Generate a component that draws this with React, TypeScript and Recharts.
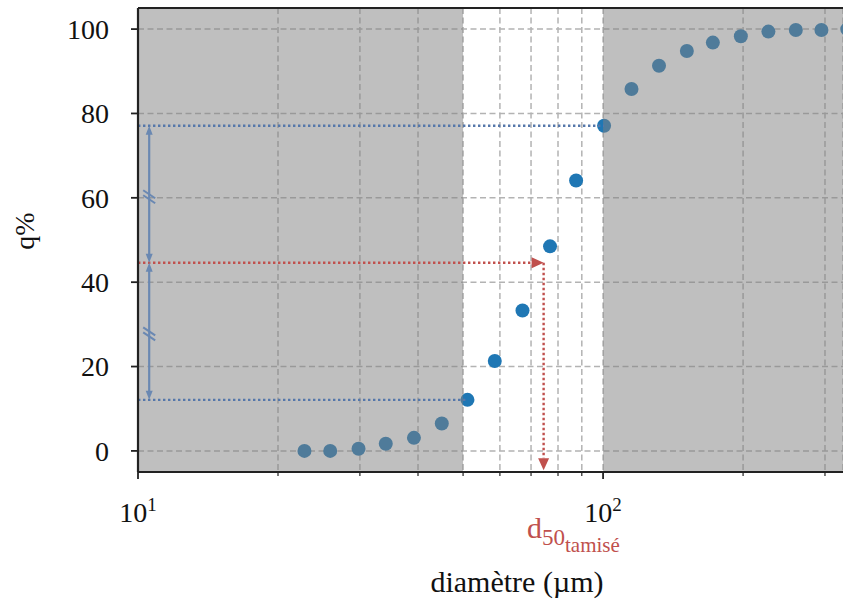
import React from 'react';
import { ScatterChart, Scatter, XAxis, YAxis, CartesianGrid, ReferenceArea, ReferenceLine } from 'recharts';

// sieve diameters (µm) and cumulative passing q (%)
const diameters = [22.8, 25.9, 29.8, 34.1, 39.2, 45.0, 51.1, 58.5, 67.1, 76.9, 87.5, 100.5, 115.1, 131.9, 151.4, 172.2, 197.8, 226.7, 259.7, 294.8, 335];
const cumulative = [0, 0, 0.5, 1.7, 3.1, 6.5, 12.1, 21.3, 33.3, 48.5, 64.1, 77.1, 85.8, 91.3, 94.8, 96.8, 98.3, 99.4, 99.8, 99.8, 100];

const xTicks = [10, 20, 30, 40, 50, 60, 70, 80, 90, 100, 200, 300];
const yTicks = [0, 20, 40, 60, 80, 100];
const xDomain = [10, 328];
const yDomain = [-5, 105];

// shaded (excluded) diameter ranges
const shadedFrom = [10, 100];
const shadedTo = [50, 328];

// annotation levels
const upperLevel = 77.1;
const upperDiameter = 100.5;
const lowerLevel = 12.1;
const lowerDiameter = 51.1;
const midLevel = 44.6;
const d50Tamise = 74.5;
const arrowDiameter = 10.57;

const data = diameters.map((d, i) => ({ d, q: cumulative[i] }));

const FONT = '"Liberation Serif", "DejaVu Serif", serif';
const BLUE = '#5577aa';
const ARROW_BLUE = '#6a88b2';
const RED = '#c0504d';

function XTick(props: any) {
  const { x, y, payload } = props;
  const v = payload.value;
  const major = v === 10 || v === 100;
  return (
    <g>
      <line x1={x} y1={y} x2={x} y2={y + (major ? 7 : 4)} stroke="#222" strokeWidth={major ? 1.8 : 1.2} />
      {major && (
        <text x={x} y={y + 50} textAnchor="middle" fontFamily={FONT} fontSize={28} fill="#111">
          10<tspan dy={-11} fontSize={19}>{v === 10 ? '1' : '2'}</tspan>
        </text>
      )}
    </g>
  );
}

function arrowHead(x: number, y: number, dx: number, dy: number, len: number, w: number, color: string, key: string) {
  const n = Math.hypot(dx, dy) || 1;
  const ux = dx / n, uy = dy / n;
  const bx = x - ux * len, by = y - uy * len;
  const px = -uy * w / 2, py = ux * w / 2;
  return <polygon key={key} points={`${x},${y} ${bx + px},${by + py} ${bx - px},${by - py}`} fill={color} />;
}

// dotted line with an arrowhead at its end
function dottedArrow(color: string) {
  return (props: any) => {
    const { x1, y1, x2, y2 } = props;
    const len = 12;
    const n = Math.hypot(x2 - x1, y2 - y1) || 1;
    const ex = x2 - ((x2 - x1) / n) * len, ey = y2 - ((y2 - y1) / n) * len;
    return (
      <g>
        <line x1={x1} y1={y1} x2={ex} y2={ey} stroke={color} strokeWidth={2.4} strokeDasharray="2.4 2.6" />
        {arrowHead(x2, y2, x2 - x1, y2 - y1, len, 11, color, 'h')}
      </g>
    );
  };
}

// vertical double arrow with a break mark in the middle
function breakArrow(props: any) {
  const { x1, y1, x2, y2 } = props;
  const my = (y1 + y2) / 2;
  const top = Math.min(y1, y2), bot = Math.max(y1, y2);
  return (
    <g>
      <line x1={x1} y1={top + 7} x2={x2} y2={bot - 7} stroke={ARROW_BLUE} strokeWidth={2.2} />
      {arrowHead(x1, top, 0, -1, 9, 7, ARROW_BLUE, 't')}
      {arrowHead(x1, bot, 0, 1, 9, 7, ARROW_BLUE, 'b')}
      <line x1={x1 - 6} y1={my - 4} x2={x1 + 6} y2={my + 4} stroke={ARROW_BLUE} strokeWidth={2} />
      <line x1={x1 - 6} y1={my + 1} x2={x1 + 6} y2={my + 9} stroke={ARROW_BLUE} strokeWidth={2} />
    </g>
  );
}

export default function App() {
  return (
    <div style={{ position: 'absolute', left: 0, top: 0, width: 843, height: 608, overflow: 'hidden', background: '#fff' }}>
      <ScatterChart width={843} height={608} margin={{ top: 8, right: 0, bottom: 0, left: 0 }}>
        <CartesianGrid stroke="#b3b3b3" strokeWidth={1.5} strokeDasharray="6 3.5" zIndex={-100} />
        <Scatter
          data={data}
          dataKey="q"
          fill="#1f77b4"
          isAnimationActive={false}
          shape={(p: any) => <circle cx={p.cx} cy={p.cy} r={7} fill="#1f77b4" />}
        />
        {shadedFrom.map((from, i) => (
          <ReferenceArea key={i} x1={from} x2={shadedTo[i]} fill="#808080" fillOpacity={0.5} stroke="none" zIndex={650} />
        ))}
        <ReferenceLine segment={[{ x: 10, y: upperLevel }, { x: upperDiameter, y: upperLevel }]} stroke={BLUE} strokeWidth={2.4} strokeDasharray="2.4 2.6" zIndex={700} />
        <ReferenceLine segment={[{ x: 10, y: lowerLevel }, { x: lowerDiameter, y: lowerLevel }]} stroke={BLUE} strokeWidth={2.4} strokeDasharray="2.4 2.6" zIndex={700} />
        <ReferenceLine segment={[{ x: 10, y: midLevel }, { x: d50Tamise, y: midLevel }]} shape={dottedArrow(RED)} zIndex={710} />
        <ReferenceLine segment={[{ x: d50Tamise, y: midLevel }, { x: d50Tamise, y: -4.6 }]} shape={dottedArrow(RED)} zIndex={710} />
        <ReferenceLine segment={[{ x: arrowDiameter, y: upperLevel }, { x: arrowDiameter, y: midLevel }]} shape={breakArrow} zIndex={720} />
        <ReferenceLine segment={[{ x: arrowDiameter, y: midLevel }, { x: arrowDiameter, y: lowerLevel }]} shape={breakArrow} zIndex={720} />
        <ReferenceLine y={105} stroke="#222" strokeWidth={2.2} zIndex={900} />
        <XAxis
          type="number"
          dataKey="d"
          scale="log"
          domain={xDomain}
          allowDataOverflow
          ticks={xTicks}
          interval={0}
          height={136}
          tickSize={0}
          tickMargin={0}
          tickLine={false}
          tick={<XTick />}
          axisLine={{ stroke: '#222', strokeWidth: 2.2 }}
          zIndex={900}
        />
        <YAxis
          type="number"
          dataKey="q"
          domain={yDomain}
          allowDataOverflow
          ticks={yTicks}
          interval={0}
          width={138}
          tickSize={7}
          tickMargin={22}
          tickLine={{ stroke: '#222', strokeWidth: 1.8 }}
          tick={{ fontFamily: FONT, fontSize: 28, fill: '#111' }}
          axisLine={{ stroke: '#222', strokeWidth: 2.2 }}
          zIndex={900}
        />
      </ScatterChart>
      <svg width={843} height={608} style={{ position: 'absolute', left: 0, top: 0, pointerEvents: 'none' }}>
        <text transform="translate(34,231) rotate(-90)" textAnchor="middle" fontFamily={FONT} fontSize={28} fill="#111">
          q%
        </text>
        <text x={517} y={592} textAnchor="middle" fontFamily={FONT} fontSize={30} fill="#111">
          diamètre (µm)
        </text>
        <text x={527} y={538} fontFamily={FONT} fontSize={30} fill={RED}>
          d<tspan dy={7} fontSize={23}>50</tspan>
          <tspan dy={7} fontSize={21}>tamisé</tspan>
        </text>
      </svg>
    </div>
  );
}
